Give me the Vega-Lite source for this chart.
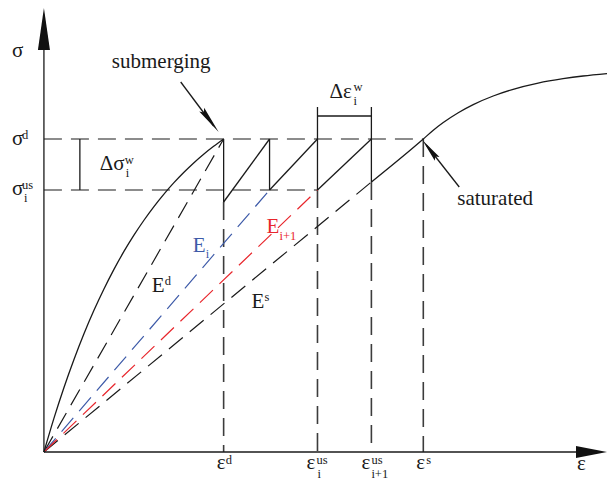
{
  "$schema": "https://vega.github.io/schema/vega-lite/v6.json",
  "autosize": {"type": "fit", "contains": "padding"},
  "width": 610,
  "height": 489,
  "padding": 0,
  "background": "white",
  "config": {"view": {"stroke": null}},
  "datasets": {
    "solid": [
      {"x": 0, "y": 0, "x2": 0, "y2": 430},
      {"x": 0, "y": 0, "x2": 550, "y2": 0},
      {"x": 180, "y": 313, "x2": 180, "y2": 250},
      {"x": 180, "y": 250, "x2": 226, "y2": 313},
      {"x": 226, "y": 313, "x2": 226, "y2": 262},
      {"x": 226, "y": 262, "x2": 274, "y2": 313},
      {"x": 274, "y": 313, "x2": 274, "y2": 262},
      {"x": 274, "y": 262, "x2": 328, "y2": 313},
      {"x": 328, "y": 313, "x2": 328, "y2": 270},
      {"x": 36, "y": 313, "x2": 36, "y2": 262},
      {"x": 274, "y": 336, "x2": 328, "y2": 336},
      {"x": 274, "y": 345, "x2": 274, "y2": 313},
      {"x": 328, "y": 345, "x2": 328, "y2": 313},
      {"x": 137, "y": 370, "x2": 170, "y2": 326},
      {"x": 416, "y": 265, "x2": 383, "y2": 307}
    ],
    "dashedBlack": [
      {"x": 0, "y": 313, "x2": 380, "y2": 313},
      {"x": 0, "y": 262, "x2": 274, "y2": 262},
      {"x": 0, "y": 0, "x2": 180, "y2": 313},
      {"x": 0, "y": 0, "x2": 328, "y2": 270}
    ],
    "dashedVertical": [
      {"x": 180, "y": 250, "x2": 180, "y2": 0},
      {"x": 274, "y": 262, "x2": 274, "y2": 0},
      {"x": 328, "y": 270, "x2": 328, "y2": 0},
      {"x": 380, "y": 313, "x2": 380, "y2": 0}
    ],
    "secantEi": [{"x": 0, "y": 0, "x2": 226, "y2": 262}],
    "secantEi1": [{"x": 0, "y": 0, "x2": 274, "y2": 262}],
    "curveDry": [
      {"x": 0, "y": 0}, {"x": 10, "y": 33.6}, {"x": 20, "y": 64.3},
      {"x": 30, "y": 92.3}, {"x": 40, "y": 118.0}, {"x": 50, "y": 141.4},
      {"x": 60, "y": 162.8}, {"x": 70, "y": 182.4}, {"x": 80, "y": 200.3},
      {"x": 90, "y": 216.6}, {"x": 100, "y": 231.5}, {"x": 110, "y": 245.2},
      {"x": 120, "y": 257.7}, {"x": 130, "y": 269.1}, {"x": 140, "y": 279.5},
      {"x": 150, "y": 289.1}, {"x": 160, "y": 297.8}, {"x": 170, "y": 305.7},
      {"x": 180, "y": 313}
    ],
    "curveSaturated": [
      {"x": 328, "y": 270}, {"x": 380, "y": 313}, {"x": 390, "y": 321.8},
      {"x": 400, "y": 329.5}, {"x": 415, "y": 339.3}, {"x": 430, "y": 347.4},
      {"x": 450, "y": 356.0}, {"x": 470, "y": 362.7}, {"x": 495, "y": 368.9},
      {"x": 520, "y": 373.3}, {"x": 540, "y": 376.0}, {"x": 564, "y": 378.4}
    ],
    "headUp": [{"x": 0, "y": 444}],
    "headRight": [{"x": 564, "y": 0}],
    "headSubmerging": [{"x": 175, "y": 320}],
    "headSaturated": [{"x": 379, "y": 312}],
    "labels": [
      {"t": "σ", "x": -32, "y": 395, "kind": "main", "grp": "plain"},
      {"t": "σ", "x": -32, "y": 307, "kind": "main", "grp": "plain"},
      {"t": "d", "x": -22, "y": 313, "kind": "script", "grp": "plain"},
      {"t": "σ", "x": -32, "y": 257, "kind": "main", "grp": "plain"},
      {"t": "us", "x": -22, "y": 263, "kind": "script", "grp": "plain"},
      {"t": "i", "x": -20, "y": 250, "kind": "script", "grp": "plain"},
      {"t": "Δσ", "x": 56, "y": 282, "kind": "main", "grp": "plain"},
      {"t": "w", "x": 81, "y": 288, "kind": "script", "grp": "plain"},
      {"t": "i", "x": 82, "y": 275, "kind": "script", "grp": "plain"},
      {"t": "Δε", "x": 286, "y": 354, "kind": "main", "grp": "plain"},
      {"t": "w", "x": 310, "y": 361, "kind": "script", "grp": "plain"},
      {"t": "i", "x": 310, "y": 347, "kind": "script", "grp": "plain"},
      {"t": "submerging", "x": 68, "y": 384, "kind": "main", "grp": "plain"},
      {"t": "saturated", "x": 414, "y": 247, "kind": "main", "grp": "plain"},
      {"t": "E", "x": 108, "y": 160, "kind": "main", "grp": "plain"},
      {"t": "d", "x": 121, "y": 167, "kind": "script", "grp": "plain"},
      {"t": "E", "x": 149, "y": 200, "kind": "main", "grp": "Ei"},
      {"t": "i", "x": 162, "y": 194, "kind": "script", "grp": "Ei"},
      {"t": "E", "x": 223, "y": 219, "kind": "main", "grp": "Ei1"},
      {"t": "i+1", "x": 236, "y": 212, "kind": "script", "grp": "Ei1"},
      {"t": "E", "x": 208, "y": 144, "kind": "main", "grp": "plain"},
      {"t": "s", "x": 221, "y": 151, "kind": "script", "grp": "plain"},
      {"t": "ε", "x": 173, "y": -17, "kind": "main", "grp": "plain"},
      {"t": "d", "x": 182, "y": -12, "kind": "script", "grp": "plain"},
      {"t": "ε", "x": 263, "y": -17, "kind": "main", "grp": "plain"},
      {"t": "us", "x": 273, "y": -12, "kind": "script", "grp": "plain"},
      {"t": "i", "x": 274, "y": -26, "kind": "script", "grp": "plain"},
      {"t": "ε", "x": 318, "y": -17, "kind": "main", "grp": "plain"},
      {"t": "us", "x": 328, "y": -12, "kind": "script", "grp": "plain"},
      {"t": "i+1", "x": 328, "y": -26, "kind": "script", "grp": "plain"},
      {"t": "ε", "x": 373, "y": -17, "kind": "main", "grp": "plain"},
      {"t": "s", "x": 383, "y": -12, "kind": "script", "grp": "plain"},
      {"t": "ε", "x": 534, "y": -18, "kind": "main", "grp": "plain"}
    ]
  },
  "encoding": {
    "x": {"field": "x", "type": "quantitative", "axis": null,
          "scale": {"domain": [-44, 566], "nice": false, "zero": false}},
    "y": {"field": "y", "type": "quantitative", "axis": null,
          "scale": {"domain": [-37, 452], "nice": false, "zero": false}}
  },
  "layer": [
    {
      "data": {"name": "dashedVertical"},
      "mark": {"type": "rule", "color": "#3c3c3c", "strokeWidth": 1.6, "strokeDash": [18, 9]},
      "encoding": {"x2": {"field": "x2"}, "y2": {"field": "y2"}}
    },
    {
      "data": {"name": "dashedBlack"},
      "mark": {"type": "rule", "color": "#1a1a1a", "strokeWidth": 1.2, "strokeDash": [18, 9]},
      "encoding": {"x2": {"field": "x2"}, "y2": {"field": "y2"}}
    },
    {
      "data": {"name": "secantEi"},
      "mark": {"type": "rule", "color": "#3d5aa8", "strokeWidth": 1.2, "strokeDash": [18, 9]},
      "encoding": {"x2": {"field": "x2"}, "y2": {"field": "y2"}}
    },
    {
      "data": {"name": "secantEi1"},
      "mark": {"type": "rule", "color": "#e8262c", "strokeWidth": 1.2, "strokeDash": [18, 9]},
      "encoding": {"x2": {"field": "x2"}, "y2": {"field": "y2"}}
    },
    {
      "data": {"name": "solid"},
      "mark": {"type": "rule", "color": "#1a1a1a", "strokeWidth": 1.3},
      "encoding": {"x2": {"field": "x2"}, "y2": {"field": "y2"}}
    },
    {
      "data": {"name": "curveDry"},
      "mark": {"type": "line", "color": "#1a1a1a", "strokeWidth": 1.3, "interpolate": "monotone"},
      "encoding": {}
    },
    {
      "data": {"name": "curveSaturated"},
      "mark": {"type": "line", "color": "#1a1a1a", "strokeWidth": 1.3, "interpolate": "monotone"},
      "encoding": {}
    },
    {
      "data": {"name": "headUp"},
      "mark": {"type": "point", "filled": true, "color": "#111", "opacity": 1, "strokeWidth": 0,
               "shape": "M0,0L0.286,2L-0.286,2Z", "size": 1764, "angle": 0}
    },
    {
      "data": {"name": "headRight"},
      "mark": {"type": "point", "filled": true, "color": "#111", "opacity": 1, "strokeWidth": 0,
               "shape": "M0,0L0.387,2L-0.387,2Z", "size": 961, "angle": 90}
    },
    {
      "data": {"name": "headSubmerging"},
      "mark": {"type": "point", "filled": true, "color": "#111", "opacity": 1, "strokeWidth": 0,
               "shape": "M0,0L0.22,2L0,1.75L-0.22,2Z", "size": 784, "angle": 142.8}
    },
    {
      "data": {"name": "headSaturated"},
      "mark": {"type": "point", "filled": true, "color": "#111", "opacity": 1, "strokeWidth": 0,
               "shape": "M0,0L0.25,2L0,1.75L-0.25,2Z", "size": 576, "angle": 321.8}
    },
    {
      "data": {"name": "labels"},
      "transform": [{"filter": "datum.kind === 'main'"}],
      "mark": {"type": "text", "font": "Liberation Serif", "fontSize": 21,
               "align": "left", "baseline": "alphabetic"},
      "encoding": {
        "text": {"field": "t"},
        "color": {"field": "grp", "type": "nominal", "legend": null,
                  "scale": {"domain": ["plain", "Ei", "Ei1"], "range": ["#1a1a1a", "#3d5aa8", "#e8262c"]}}
      }
    },
    {
      "data": {"name": "labels"},
      "transform": [{"filter": "datum.kind === 'script'"}],
      "mark": {"type": "text", "font": "Liberation Serif", "fontSize": 12.5,
               "align": "left", "baseline": "alphabetic"},
      "encoding": {
        "text": {"field": "t"},
        "color": {"field": "grp", "type": "nominal", "legend": null,
                  "scale": {"domain": ["plain", "Ei", "Ei1"], "range": ["#1a1a1a", "#3d5aa8", "#e8262c"]}}
      }
    }
  ]
}
